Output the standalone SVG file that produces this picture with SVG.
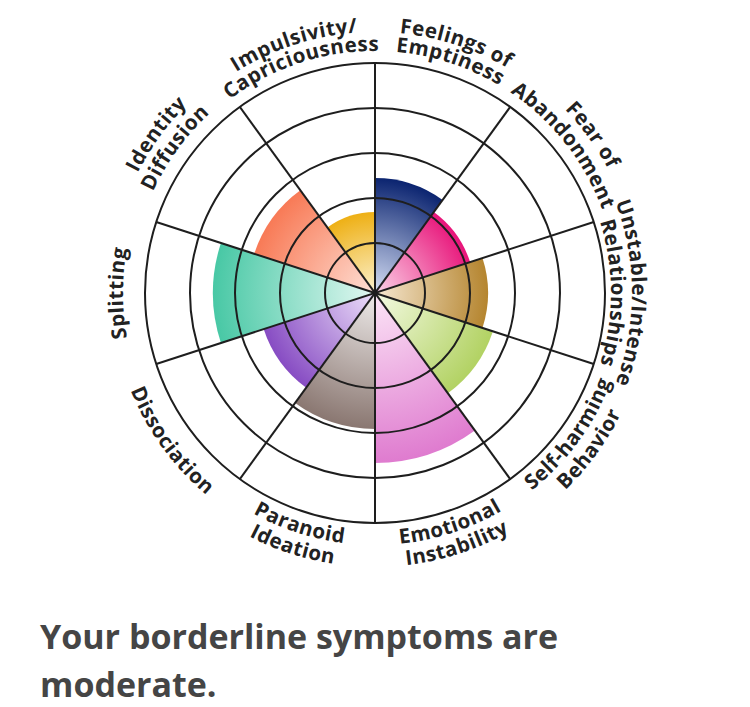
<svg xmlns="http://www.w3.org/2000/svg" xmlns:xlink="http://www.w3.org/1999/xlink" width="750" height="707" viewBox="0 0 750 707">
<style>
.grid{fill:none;stroke:#1e1e1e;stroke-width:2}
.lbl{font-family:"Open Sans","Noto Sans","Liberation Sans",sans-serif;font-weight:700;font-size:20.5px;letter-spacing:0.5px;fill:#222222}
.title{font-family:"Open Sans","Noto Sans","Liberation Sans",sans-serif;font-weight:700;font-size:34px;fill:#454545}
</style>
<defs>
<radialGradient id="gEmpt" gradientUnits="userSpaceOnUse" cx="375" cy="293" r="115"><stop offset="0" stop-color="#d6dff5"/><stop offset="1" stop-color="#0b2470"/></radialGradient>
<radialGradient id="gAband" gradientUnits="userSpaceOnUse" cx="375" cy="293" r="100"><stop offset="0" stop-color="#fbd3e8"/><stop offset="1" stop-color="#e8157a"/></radialGradient>
<radialGradient id="gUnst" gradientUnits="userSpaceOnUse" cx="375" cy="293" r="113"><stop offset="0" stop-color="#f6e8d2"/><stop offset="1" stop-color="#b5852f"/></radialGradient>
<radialGradient id="gSelf" gradientUnits="userSpaceOnUse" cx="375" cy="293" r="124"><stop offset="0" stop-color="#f4fae3"/><stop offset="1" stop-color="#b2d263"/></radialGradient>
<radialGradient id="gEmot" gradientUnits="userSpaceOnUse" cx="375" cy="293" r="170"><stop offset="0" stop-color="#fce6f7"/><stop offset="1" stop-color="#df7bcf"/></radialGradient>
<radialGradient id="gPara" gradientUnits="userSpaceOnUse" cx="375" cy="293" r="136"><stop offset="0" stop-color="#eeebea"/><stop offset="1" stop-color="#8a7771"/></radialGradient>
<radialGradient id="gDiss" gradientUnits="userSpaceOnUse" cx="375" cy="293" r="117"><stop offset="0" stop-color="#ede0fa"/><stop offset="1" stop-color="#874cc3"/></radialGradient>
<radialGradient id="gSplit" gradientUnits="userSpaceOnUse" cx="375" cy="293" r="162"><stop offset="0" stop-color="#e3f8f2"/><stop offset="1" stop-color="#48c8a5"/></radialGradient>
<radialGradient id="gIdent" gradientUnits="userSpaceOnUse" cx="375" cy="293" r="127"><stop offset="0" stop-color="#fee0d6"/><stop offset="1" stop-color="#f87a56"/></radialGradient>
<radialGradient id="gImp" gradientUnits="userSpaceOnUse" cx="375" cy="293" r="81"><stop offset="0" stop-color="#fcf2cf"/><stop offset="1" stop-color="#eeb015"/></radialGradient>
<path id="u236" d="M153.23,212.28 A236,236 0 0 1 596.77,212.28"/>
<path id="u242" d="M147.59,210.23 A242,242 0 0 1 602.41,210.23"/>
<path id="u244" d="M145.71,209.55 A244,244 0 0 1 604.29,209.55"/>
<path id="u252" d="M138.20,206.81 A252,252 0 0 1 611.80,206.81"/>
<path id="u257" d="M133.50,205.10 A257,257 0 0 1 616.50,205.10"/>
<path id="u261" d="M129.74,203.73 A261,261 0 0 1 620.26,203.73"/>
<path id="u264" d="M126.92,202.71 A264,264 0 0 1 623.08,202.71"/>
<path id="u266" d="M125.04,202.02 A266,266 0 0 1 624.96,202.02"/>
<path id="d252" d="M138.20,379.19 A252,252 0 0 0 611.80,379.19"/>
<path id="d263" d="M127.86,382.95 A263,263 0 0 0 622.14,382.95"/>
<path id="d274" d="M117.52,386.71 A274,274 0 0 0 632.48,386.71"/>
</defs>
<rect width="750" height="707" fill="#ffffff"/>

<g id="emptiness">
<path d="M375,293 L375,178 A115,115 0 0 1 442.60,199.96 Z" fill="url(#gEmpt)"/>
<text class="lbl" transform="rotate(18 375 293)" text-anchor="middle"><textPath xlink:href="#u261" startOffset="50%">Feelings of</textPath></text>
<text class="lbl" transform="rotate(18 375 293)" text-anchor="middle"><textPath xlink:href="#u242" startOffset="50%">Emptiness</textPath></text>
</g>
<g id="abandonment">
<path d="M375,293 L433.78,212.10 A100,100 0 0 1 470.11,262.10 Z" fill="url(#gAband)"/>
<text class="lbl" transform="rotate(54 375 293)" text-anchor="middle"><textPath xlink:href="#u264" startOffset="50%">Fear of</textPath></text>
<text class="lbl" transform="rotate(52 375 293)" text-anchor="middle"><textPath xlink:href="#u242" startOffset="50%">Abandonment</textPath></text>
</g>
<g id="unstable">
<path d="M375,293 L482.47,258.08 A113,113 0 0 1 482.47,327.92 Z" fill="url(#gUnst)"/>
<text class="lbl" transform="rotate(90 375 293)" text-anchor="middle"><textPath xlink:href="#u257" startOffset="50%">Unstable/Intense</textPath></text>
<text class="lbl" transform="rotate(90 375 293)" text-anchor="middle"><textPath xlink:href="#u236" startOffset="50%">Relationships</textPath></text>
</g>
<g id="selfharm">
<path d="M375,293 L492.93,331.32 A124,124 0 0 1 447.89,393.32 Z" fill="url(#gSelf)"/>
<text class="lbl" transform="rotate(-54 375 293)" text-anchor="middle"><textPath xlink:href="#d252" startOffset="50%">Self-harming</textPath></text>
<text class="lbl" transform="rotate(-54 375 293)" text-anchor="middle"><textPath xlink:href="#d274" startOffset="50%">Behavior</textPath></text>
</g>
<g id="emotional">
<path d="M375,293 L474.92,430.53 A170,170 0 0 1 375,463 Z" fill="url(#gEmot)"/>
<text class="lbl" transform="rotate(-18 375 293)" text-anchor="middle"><textPath xlink:href="#d252" startOffset="50%">Emotional</textPath></text>
<text class="lbl" transform="rotate(-18 375 293)" text-anchor="middle"><textPath xlink:href="#d274" startOffset="50%">Instability</textPath></text>
</g>
<g id="paranoid">
<path d="M375,293 L375,429 A136,136 0 0 1 295.06,403.03 Z" fill="url(#gPara)"/>
<text class="lbl" transform="rotate(18 375 293)" text-anchor="middle"><textPath xlink:href="#d252" startOffset="50%">Paranoid</textPath></text>
<text class="lbl" transform="rotate(18 375 293)" text-anchor="middle"><textPath xlink:href="#d274" startOffset="50%">Ideation</textPath></text>
</g>
<g id="dissociation">
<path d="M375,293 L306.23,387.65 A117,117 0 0 1 263.73,329.16 Z" fill="url(#gDiss)"/>
<text class="lbl" transform="rotate(54 375 293)" text-anchor="middle"><textPath xlink:href="#d263" startOffset="50%">Dissociation</textPath></text>
</g>
<g id="splitting">
<path d="M375,293 L220.93,343.06 A162,162 0 0 1 220.93,242.94 Z" fill="url(#gSplit)"/>
<text class="lbl" transform="rotate(-90 375 293)" text-anchor="middle"><textPath xlink:href="#u252" startOffset="50%">Splitting</textPath></text>
</g>
<g id="identity">
<path d="M375,293 L254.22,253.75 A127,127 0 0 1 300.35,190.25 Z" fill="url(#gIdent)"/>
<text class="lbl" transform="rotate(-54 375 293)" text-anchor="middle"><textPath xlink:href="#u266" startOffset="50%">Identity</textPath></text>
<text class="lbl" transform="rotate(-54 375 293)" text-anchor="middle"><textPath xlink:href="#u244" startOffset="50%">Diffusion</textPath></text>
</g>
<g id="impulsivity">
<path d="M375,293 L327.39,227.47 A81,81 0 0 1 375,212 Z" fill="url(#gImp)"/>
<text class="lbl" transform="rotate(-18 375 293)" text-anchor="middle"><textPath xlink:href="#u261" startOffset="50%">Impulsivity/</textPath></text>
<text class="lbl" transform="rotate(-18 375 293)" text-anchor="middle"><textPath xlink:href="#u242" startOffset="50%">Capriciousness</textPath></text>
</g>

<g id="connectors">
<circle class="grid" cx="375" cy="293" r="50"/>
<circle class="grid" cx="375" cy="293" r="95"/>
<circle class="grid" cx="375" cy="293" r="140"/>
<circle class="grid" cx="375" cy="293" r="185"/>
<circle class="grid" cx="375" cy="293" r="230"/>
<line class="grid" x1="375" y1="63" x2="375" y2="523"/>
<line class="grid" x1="510.19" y1="106.93" x2="239.81" y2="479.07"/>
<line class="grid" x1="593.74" y1="221.93" x2="156.26" y2="364.07"/>
<line class="grid" x1="593.74" y1="364.07" x2="156.26" y2="221.93"/>
<line class="grid" x1="510.19" y1="479.07" x2="239.81" y2="106.93"/>
</g>

<g id="result">
<text class="title" x="40" y="649">Your borderline symptoms are</text>
<text class="title" x="40" y="697">moderate.</text>
</g>
</svg>
